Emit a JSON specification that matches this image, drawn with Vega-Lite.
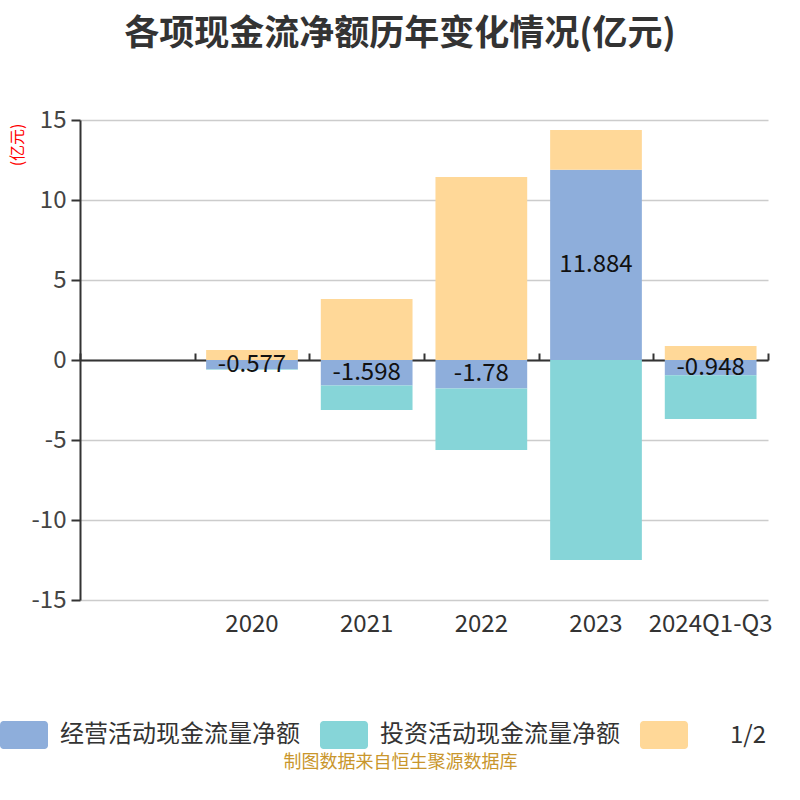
{
  "$schema": "https://vega.github.io/schema/vega-lite/v6.json",
  "autosize": "none",
  "width": 688,
  "height": 480,
  "padding": {"left": 80, "top": 120, "right": 32, "bottom": 200},
  "background": "white",
  "title": {
    "text": "各项现金流净额历年变化情况(亿元)",
    "fontSize": 35,
    "fontWeight": "bold",
    "color": "#333333",
    "font": "Noto Sans CJK SC",
    "anchor": "middle",
    "dx": -24,
    "offset": 56
  },
  "config": {
    "font": "Noto Sans CJK SC",
    "view": {"stroke": null},
    "locale": {"number": {"decimal": ".", "thousands": ",", "grouping": [3], "currency": ["", ""], "minus": "-"}}
  },
  "data": {
    "values": [
      {"year": "2020", "type": "经营活动现金流量净额", "k": 1, "value": -0.577},
      {"year": "2020", "type": "投资活动现金流量净额", "k": 2, "value": -0.03},
      {"year": "2020", "type": "筹资活动现金流量净额", "k": 3, "value": 0.625},
      {"year": "2021", "type": "经营活动现金流量净额", "k": 1, "value": -1.598},
      {"year": "2021", "type": "投资活动现金流量净额", "k": 2, "value": -1.53},
      {"year": "2021", "type": "筹资活动现金流量净额", "k": 3, "value": 3.81},
      {"year": "2022", "type": "经营活动现金流量净额", "k": 1, "value": -1.78},
      {"year": "2022", "type": "投资活动现金流量净额", "k": 2, "value": -3.85},
      {"year": "2022", "type": "筹资活动现金流量净额", "k": 3, "value": 11.44},
      {"year": "2023", "type": "经营活动现金流量净额", "k": 1, "value": 11.884},
      {"year": "2023", "type": "投资活动现金流量净额", "k": 2, "value": -12.5},
      {"year": "2023", "type": "筹资活动现金流量净额", "k": 3, "value": 2.49},
      {"year": "2024Q1-Q3", "type": "经营活动现金流量净额", "k": 1, "value": -0.948},
      {"year": "2024Q1-Q3", "type": "投资活动现金流量净额", "k": 2, "value": -2.74},
      {"year": "2024Q1-Q3", "type": "筹资活动现金流量净额", "k": 3, "value": 0.875}
    ]
  },
  "layer": [
    {
      "mark": {"type": "bar", "width": {"band": 0.8}},
      "encoding": {
        "x": {
          "field": "year",
          "type": "nominal",
          "sort": null,
          "scale": {"domain": [" ", "2020", "2021", "2022", "2023", "2024Q1-Q3"], "paddingInner": 0, "paddingOuter": 0},
          "axis": {
            "labelAngle": 0,
            "labelFontSize": 24,
            "labelColor": "#333333",
            "labelPadding": 12,
            "ticks": false,
            "domain": false,
            "grid": false,
            "title": "制图数据来自恒生聚源数据库",
            "titleColor": "#C9962C",
            "titleFontSize": 18,
            "titleFontWeight": "normal",
            "titleX": 320,
            "titleY": 162,
            "titleAlign": "center",
            "titleBaseline": "middle"
          }
        },
        "y": {
          "field": "value",
          "type": "quantitative",
          "stack": "zero",
          "scale": {"domain": [-15, 15], "nice": false},
          "axis": {
            "values": [-15, -10, -5, 0, 5, 10, 15],
            "domainColor": "#333333",
            "domainWidth": 2,
            "tickColor": "#333333",
            "tickWidth": 2,
            "tickSize": 9,
            "labelFontSize": 24,
            "labelColor": "#444444",
            "labelPadding": 5,
            "grid": true,
            "gridColor": "#cccccc",
            "gridWidth": 1.5,
            "title": "(亿元)",
            "titleColor": "#ff0000",
            "titleFontSize": 16,
            "titleFontWeight": "normal",
            "titleAngle": -90,
            "titleX": -63,
            "titleY": 3,
            "titleAlign": "right",
            "titleBaseline": "middle"
          }
        },
        "color": {
          "field": "type",
          "type": "nominal",
          "scale": {
            "domain": ["经营活动现金流量净额", "投资活动现金流量净额", "筹资活动现金流量净额"],
            "range": ["#8EAEDB", "#86D5D8", "#FFD898"]
          },
          "legend": {
            "orient": "none",
            "legendX": -80,
            "legendY": 591,
            "direction": "horizontal",
            "title": "1/2",
            "titleOrient": "right",
            "titleFontSize": 24,
            "titleFontWeight": "normal",
            "titleColor": "#333333",
            "titlePadding": 30,
            "titleBaseline": "line-top",
            "titleLineHeight": 12,
            "padding": 0,
            "symbolType": "M-0.85,-0.583H0.85A0.15,0.15 0 0 1 1,-0.433V0.433A0.15,0.15 0 0 1 0.85,0.583H-0.85A0.15,0.15 0 0 1 -1,0.433V-0.433A0.15,0.15 0 0 1 -0.85,-0.583Z",
            "symbolSize": 2304,
            "symbolStrokeWidth": 0,
            "symbolOpacity": 1,
            "labelFontSize": 24,
            "labelColor": "#333333",
            "labelOffset": 12,
            "labelLimit": 400,
            "columnPadding": 20,
            "labelExpr": "datum.label == '筹资活动现金流量净额' ? '' : datum.label"
          }
        },
        "order": {"field": "k", "type": "quantitative"}
      }
    },
    {
      "transform": [
        {"filter": "datum.k == 1"},
        {"calculate": "datum.value / 2", "as": "mid"}
      ],
      "mark": {"type": "text", "fontSize": 24, "color": "#111111", "align": "center", "baseline": "middle"},
      "encoding": {
        "x": {
          "field": "year",
          "type": "nominal",
          "sort": null,
          "axis": {
            "offset": -240,
            "labels": false,
            "domain": true,
            "domainColor": "#333333",
            "domainWidth": 2,
            "ticks": true,
            "tickBand": "extent",
            "tickSize": 7,
            "tickColor": "#333333",
            "tickWidth": 2,
            "grid": false,
            "title": null
          }
        },
        "y": {"field": "mid", "type": "quantitative", "axis": {"title": "(亿元)"}},
        "text": {"field": "value", "type": "quantitative", "format": ".3~f"}
      }
    }
  ],
  "resolve": {"axis": {"x": "independent"}}
}
